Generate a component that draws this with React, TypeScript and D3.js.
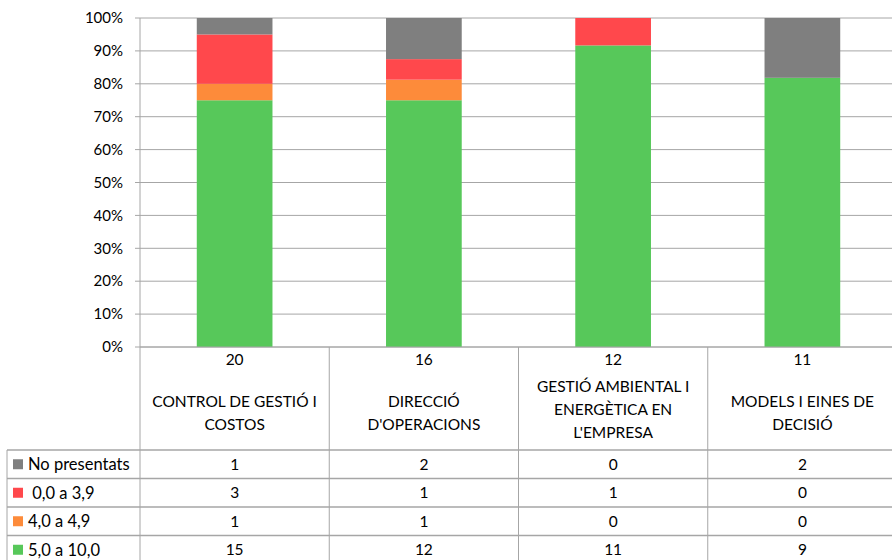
import React from "react";
import * as d3 from "d3";

const categories = ["CONTROL DE GESTIÓ I COSTOS", "DIRECCIÓ D'OPERACIONS", "GESTIÓ AMBIENTAL I ENERGÈTICA EN L'EMPRESA", "MODELS I EINES DE DECISIÓ"];
const categoryLines = [
  ["CONTROL DE GESTIÓ I", "COSTOS"],
  ["DIRECCIÓ", "D'OPERACIONS"],
  ["GESTIÓ AMBIENTAL I", "ENERGÈTICA EN", "L'EMPRESA"],
  ["MODELS I EINES DE", "DECISIÓ"],
];
const totals = [20, 16, 12, 11];
const seriesNames = ["No presentats", " 0,0 a 3,9", "4,0 a 4,9", "5,0 a 10,0"];
const noPresentats = [1, 2, 0, 2];
const suspens = [3, 1, 1, 0];
const aprovatBaix = [1, 1, 0, 0];
const aprovat = [15, 12, 11, 9];
const seriesValues = [noPresentats, suspens, aprovatBaix, aprovat];
const seriesColors = ["#7f7f7f", "#ff484c", "#fd8b3a", "#57c85a"];
const yTicks = [0, 0.1, 0.2, 0.3, 0.4, 0.5, 0.6, 0.7, 0.8, 0.9, 1];

const W = 892;
const H = 560;
const FONT = "Lato, 'Open Sans', sans-serif";

export default function App() {
  const left = 140;
  const right = 897;
  const top = 18;
  const bottom = 347;
  const x = d3.scaleBand<string>().domain(categories).range([left, right]).paddingInner(0.6).paddingOuter(0.3);
  const xc = d3.scaleBand<string>().domain(categories).range([left, right]);
  const y = d3.scaleLinear().domain([0, 1]).range([bottom, top]);
  const fmt = d3.format(".0%");

  const stackOrder = [3, 2, 1, 0];
  const rows = categories.map((c, i) => {
    const o: any = { cat: c };
    seriesValues.forEach((s, k) => (o["s" + k] = s[i] / totals[i]));
    return o;
  });
  const stack = d3.stack<any>().keys(stackOrder.map((k) => "s" + k));
  const layers = stack(rows);

  const rowTops = [450, 478.5, 507, 535.5];
  const rowH = 28.5;
  const grid = "#a6a6a6";

  return (
    <svg width={W} height={H} style={{ position: "absolute", left: 0, top: 0 }} fontFamily={FONT}>
      <rect width={W} height={H} fill="#fff" />
      {yTicks.map((t) => (
        <g key={t}>
          <line x1={left - 5} x2={W} y1={y(t)} y2={y(t)} stroke={grid} strokeWidth={1} />
          <text x={123} y={y(t)} dy="0.35em" textAnchor="end" fontSize={15} fill="#000">
            {fmt(t)}
          </text>
        </g>
      ))}
      {layers.map((layer) => {
        const k = +layer.key.slice(1);
        return (
          <g key={layer.key}>
            {layer.map((d, i) => (
              <rect
                key={i}
                x={x(categories[i])}
                width={x.bandwidth()}
                y={y(d[1])}
                height={Math.max(0, y(d[0]) - y(d[1]))}
                fill={seriesColors[k]}
              />
            ))}
          </g>
        );
      })}
      <line x1={left} x2={left} y1={top} y2={H} stroke={grid} />
      <line x1={left} x2={W} y1={bottom} y2={bottom} stroke={grid} />
      {categories.map((c, i) => {
        const xl = xc(c)!;
        const cx = xl + xc.bandwidth() / 2;
        const lines = categoryLines[i];
        const startY = lines.length === 3 ? 387 : 402;
        return (
          <g key={c}>
            {i > 0 && <line x1={xl} x2={xl} y1={bottom} y2={H} stroke={grid} />}
            <text x={cx} y={360} dy="0.35em" textAnchor="middle" fontSize={15.5}>
              {totals[i]}
            </text>
            {lines.map((ln, j) => (
              <text key={j} x={cx} y={startY + j * 23} dy="0.35em" textAnchor="middle" fontSize={15.5}>
                {ln}
              </text>
            ))}
            {seriesValues.map((s, k) => (
              <text key={k} x={cx} y={rowTops[k] + rowH / 2} dy="0.35em" textAnchor="middle" fontSize={15.5}>
                {s[i]}
              </text>
            ))}
          </g>
        );
      })}
      {rowTops.map((ry, k) => (
        <line key={k} x1={7} x2={W} y1={ry} y2={ry} stroke={grid} strokeWidth={1.5} />
      ))}
      <line x1={7} x2={7} y1={rowTops[0]} y2={H} stroke={grid} />
      {seriesNames.map((n, k) => (
        <g key={n}>
          <rect x={13} y={rowTops[k] + rowH / 2 - 5} width={10} height={10} fill={seriesColors[k]} />
          <text x={28} y={rowTops[k] + rowH / 2} dy="0.35em" fontSize={16.5} style={{ whiteSpace: "pre" }}>
            {n}
          </text>
        </g>
      ))}
    </svg>
  );
}
